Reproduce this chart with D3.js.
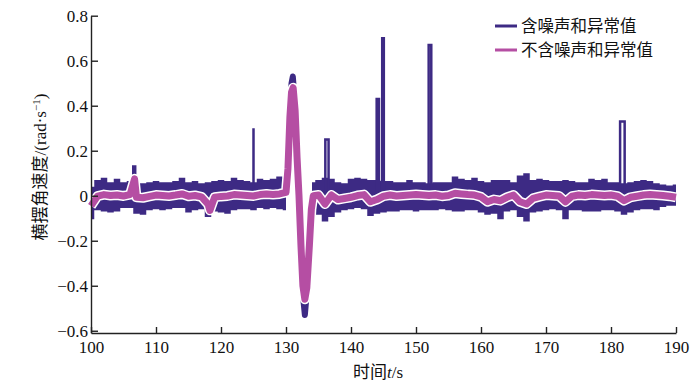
<!DOCTYPE html>
<meta charset="utf-8">
<style>
    body { margin: 0; background: #fff; }
    svg { display: block; background: #fff; }
    .axis path, .axis line { stroke: #222; stroke-width: 1.4; }
    .axis text { font-family: "Liberation Serif", serif; font-size: 17px; fill: #111; }
    .cjk { font-family: "Noto Sans CJK SC", sans-serif; font-size: 17px; fill: #111; }
    .latin { font-family: "Liberation Serif", serif; }
</style>
<svg width="700" height="388"></svg>
<script src="https://cdnjs.cloudflare.com/ajax/libs/d3/7.8.5/d3.min.js"></script>
<script>
    // sample times of the noise band (event 131-133 drawn separately)
    var bandT = [100,101,102,103,104,105,106,107,108,109,110,111,112,113,114,115,116,117,118,119,
        120,121,122,123,124,125,126,127,128,129,130,
        134,135,136,137,138,139,140,141,142,143,144,145,146,147,148,149,150,151,152,153,154,155,156,157,158,159,
        160,161,162,163,164,165,166,167,168,169,170,171,172,173,174,175,176,177,178,179,
        180,181,182,183,184,185,186,187,188,189,190];
    // upper / lower edge of the noisy signal (purple)
    var bandHi = [0.04,0.07,0.08,0.06,0.075,0.06,0.065,0.05,0.055,0.06,0.065,0.06,0.06,0.065,0.08,0.06,0.065,0.055,0.06,0.065,
        0.07,0.065,0.08,0.07,0.065,0.06,0.075,0.07,0.075,0.085,0.08,
        0.06,0.07,0.08,0.075,0.06,0.055,0.075,0.08,0.075,0.07,0.07,0.065,0.065,0.06,0.06,0.07,0.06,0.06,0.055,0.06,0.06,0.06,0.085,0.075,0.07,0.08,
        0.065,0.06,0.07,0.07,0.07,0.06,0.09,0.1,0.07,0.075,0.07,0.065,0.065,0.07,0.065,0.06,0.06,0.075,0.07,0.075,
        0.06,0.06,0.055,0.06,0.065,0.07,0.065,0.055,0.05,0.045,0.05];
    var bandLo = [-0.105,-0.065,-0.07,-0.075,-0.07,-0.055,-0.055,-0.08,-0.085,-0.065,-0.06,-0.065,-0.06,-0.055,-0.055,-0.075,-0.065,-0.06,-0.095,-0.07,
        -0.075,-0.08,-0.065,-0.06,-0.06,-0.065,-0.055,-0.06,-0.055,-0.06,-0.065,
        -0.075,-0.085,-0.115,-0.095,-0.075,-0.065,-0.06,-0.055,-0.06,-0.09,-0.08,-0.075,-0.07,-0.07,-0.065,-0.065,-0.07,-0.065,-0.065,-0.065,-0.06,-0.065,-0.07,-0.07,-0.065,-0.065,
        -0.075,-0.085,-0.08,-0.105,-0.07,-0.065,-0.095,-0.115,-0.075,-0.07,-0.065,-0.06,-0.065,-0.105,-0.065,-0.065,-0.07,-0.07,-0.07,-0.065,
        -0.065,-0.07,-0.085,-0.075,-0.065,-0.06,-0.06,-0.065,-0.05,-0.045,-0.045];

    // clean signal (pink)
    var cleanT = [100,101,102,103,104,105,106,106.7,107,108,109,110,111,112,113,114,115,116,117,118,118.3,119,
        120,121,122,123,124,125,126,127,128,129,130,
        130.3,130.6,130.85,131.1,131.4,131.7,132,132.3,132.6,132.9,133.2,133.6,133.9,
        134.2,135,136,137,138,139,140,141,142,143,144,145,146,147,148,149,150,151,152,153,154,155,156,157,158,159,
        160,161,162,163,164,165,166,167,168,169,170,171,172,173,174,175,176,177,178,179,
        180,181,182,183,184,185,186,187,188,189,190];
    var cleanV = [-0.045,-0.002,0.005,0.001,0.003,-0.001,0.005,0.075,-0.007,-0.009,-0.003,0.003,0.001,-0.001,0.003,0.008,-0.002,0.001,-0.005,-0.037,-0.065,-0.007,
        -0.003,-0.001,0.005,0.003,0.001,-0.001,0.005,0.008,0.005,0.008,0.015,
        0.12,0.35,0.46,0.48,0.38,0.17,0.0,-0.22,-0.4,-0.46,-0.41,-0.22,-0.06,
        0.0,0.003,-0.037,0.003,-0.017,-0.012,-0.007,0.001,0.005,-0.027,-0.017,-0.002,0.003,-0.001,0.001,0.003,0.005,0.003,0.001,0.003,-0.002,0.001,0.011,0.008,0.005,0.003,
        -0.005,-0.027,-0.017,-0.022,-0.007,0.003,-0.027,-0.037,-0.012,-0.004,0.003,0.001,-0.001,-0.027,-0.002,0.003,0.001,0.005,0.003,0.001,
        0.003,-0.002,-0.022,-0.007,-0.002,0.003,0.005,0.003,0.001,-0.002,-0.007];

    // noisy signal through the big yaw swing
    var eventT = [130,130.3,130.6,130.85,131.05,131.4,131.7,132,132.3,132.6,132.9,133.2,133.6,133.9,134.2];
    var eventV = [0.03,0.13,0.37,0.5,0.53,0.4,0.18,0.0,-0.24,-0.44,-0.53,-0.43,-0.22,-0.06,0.0];

    // outliers: start time, end time, value
    var spikeT0 = [106.5,125.0,136.05,143.95,144.8,151.95,181.4];
    var spikeT1 = [106.8,125.0,136.55,144.3,145.05,152.35,182.1];
    var spikeV = [0.13,0.30,0.25,0.43,0.70,0.67,0.33];

    var xTicks = [100,110,120,130,140,150,160,170,180,190];
    var yTicks = [-0.6,-0.4,-0.2,0,0.2,0.4,0.6,0.8];
    var seriesNames = ["含噪声和异常值", "不含噪声和异常值"];
    var colors = ["#3d2a84", "#b54ea3"];

    var svg = d3.select("svg");
    var x = d3.scaleLinear().domain([100, 190]).range([91, 676]);
    var y = d3.scaleLinear().domain([-0.61, 0.8]).range([333, 15.7]);

    var band = bandT.map(function (t, i) { return {t: t, hi: bandHi[i], lo: bandLo[i]}; });
    var clean = cleanT.map(function (t, i) { return {t: t, v: cleanV[i]}; });
    var ev = eventT.map(function (t, i) { return {t: t, v: eventV[i]}; });

    var plot = svg.append("g");

    // noisy band, split around the swing
    var area = d3.area()
        .curve(d3.curveStep)
        .x(function (d) { return x(d.t); })
        .y0(function (d) { return y(d.lo); })
        .y1(function (d) { return y(d.hi); });
    [band.filter(function (d) { return d.t <= 130; }), band.filter(function (d) { return d.t >= 134; })]
        .forEach(function (seg) {
            plot.append("path").datum(seg).attr("d", area).attr("fill", colors[0]);
        });

    // outlier spikes
    spikeV.forEach(function (v, i) {
        var p = d3.path();
        p.moveTo(x(spikeT0[i]), y(0));
        p.lineTo(x(spikeT0[i]), y(v));
        p.lineTo(x(spikeT1[i]), y(v));
        p.lineTo(x(spikeT1[i]), y(0));
        plot.append("path").attr("d", p.toString())
            .attr("fill", "none").attr("stroke", colors[0]).attr("stroke-width", 2.5);
    });

    var line = d3.line().x(function (d) { return x(d.t); }).y(function (d) { return y(d.v); });

    plot.append("path").datum(ev).attr("d", line)
        .attr("fill", "none").attr("stroke", colors[0]).attr("stroke-width", 6)
        .attr("stroke-linejoin", "round").attr("stroke-linecap", "round");

    // clean line with white edge
    plot.append("path").datum(clean).attr("d", line)
        .attr("fill", "none").attr("stroke", "#fff").attr("stroke-width", 10)
        .attr("stroke-linejoin", "round");
    plot.append("path").datum(clean).attr("d", line)
        .attr("fill", "none").attr("stroke", colors[1]).attr("stroke-width", 7)
        .attr("stroke-linejoin", "round");

    // axes
    svg.append("g").attr("class", "axis")
        .attr("transform", "translate(0," + y(-0.61) + ")")
        .call(d3.axisBottom(x).tickValues(xTicks).tickSize(-6).tickSizeOuter(0).tickPadding(8)
            .tickFormat(d3.format("d")));
    svg.append("g").attr("class", "axis")
        .attr("transform", "translate(" + x(100) + ",0)")
        .call(d3.axisLeft(y).tickValues(yTicks).tickSize(-7).tickSizeOuter(0).tickPadding(3)
            .tickFormat(function (d) { return d === 0 ? "0" : d3.format(".1f")(d).replace("-", "\u2212"); }));

    // axis titles
    var xl = svg.append("text").attr("class", "cjk").attr("x", 378).attr("y", 378).attr("text-anchor", "middle");
    xl.append("tspan").text("时间");
    xl.append("tspan").attr("class", "latin").attr("font-style", "italic").text("t");
    xl.append("tspan").attr("class", "latin").text("/s");

    var yl = svg.append("text").attr("class", "cjk").attr("text-anchor", "middle")
        .attr("transform", "translate(46,167) rotate(-90)");
    yl.append("tspan").text("横摆角速度");
    yl.append("tspan").attr("class", "latin").text("/(rad·s");
    yl.append("tspan").attr("class", "latin").attr("font-size", 11).attr("dy", -6).text("\u22121");
    yl.append("tspan").attr("class", "latin").attr("dy", 6).text(")");

    // legend
    var lg = svg.append("g").attr("transform", "translate(495,26)");
    seriesNames.forEach(function (name, i) {
        var row = lg.append("g").attr("transform", "translate(0," + (i * 24) + ")");
        row.append("line").attr("x1", 0).attr("x2", 22).attr("y1", 0).attr("y2", 0)
            .attr("stroke", colors[i]).attr("stroke-width", 3);
        row.append("text").attr("class", "cjk").attr("x", 26).attr("y", 0).attr("dy", "0.35em")
            .style("font-size", "16.5px").text(name);
    });
</script>
